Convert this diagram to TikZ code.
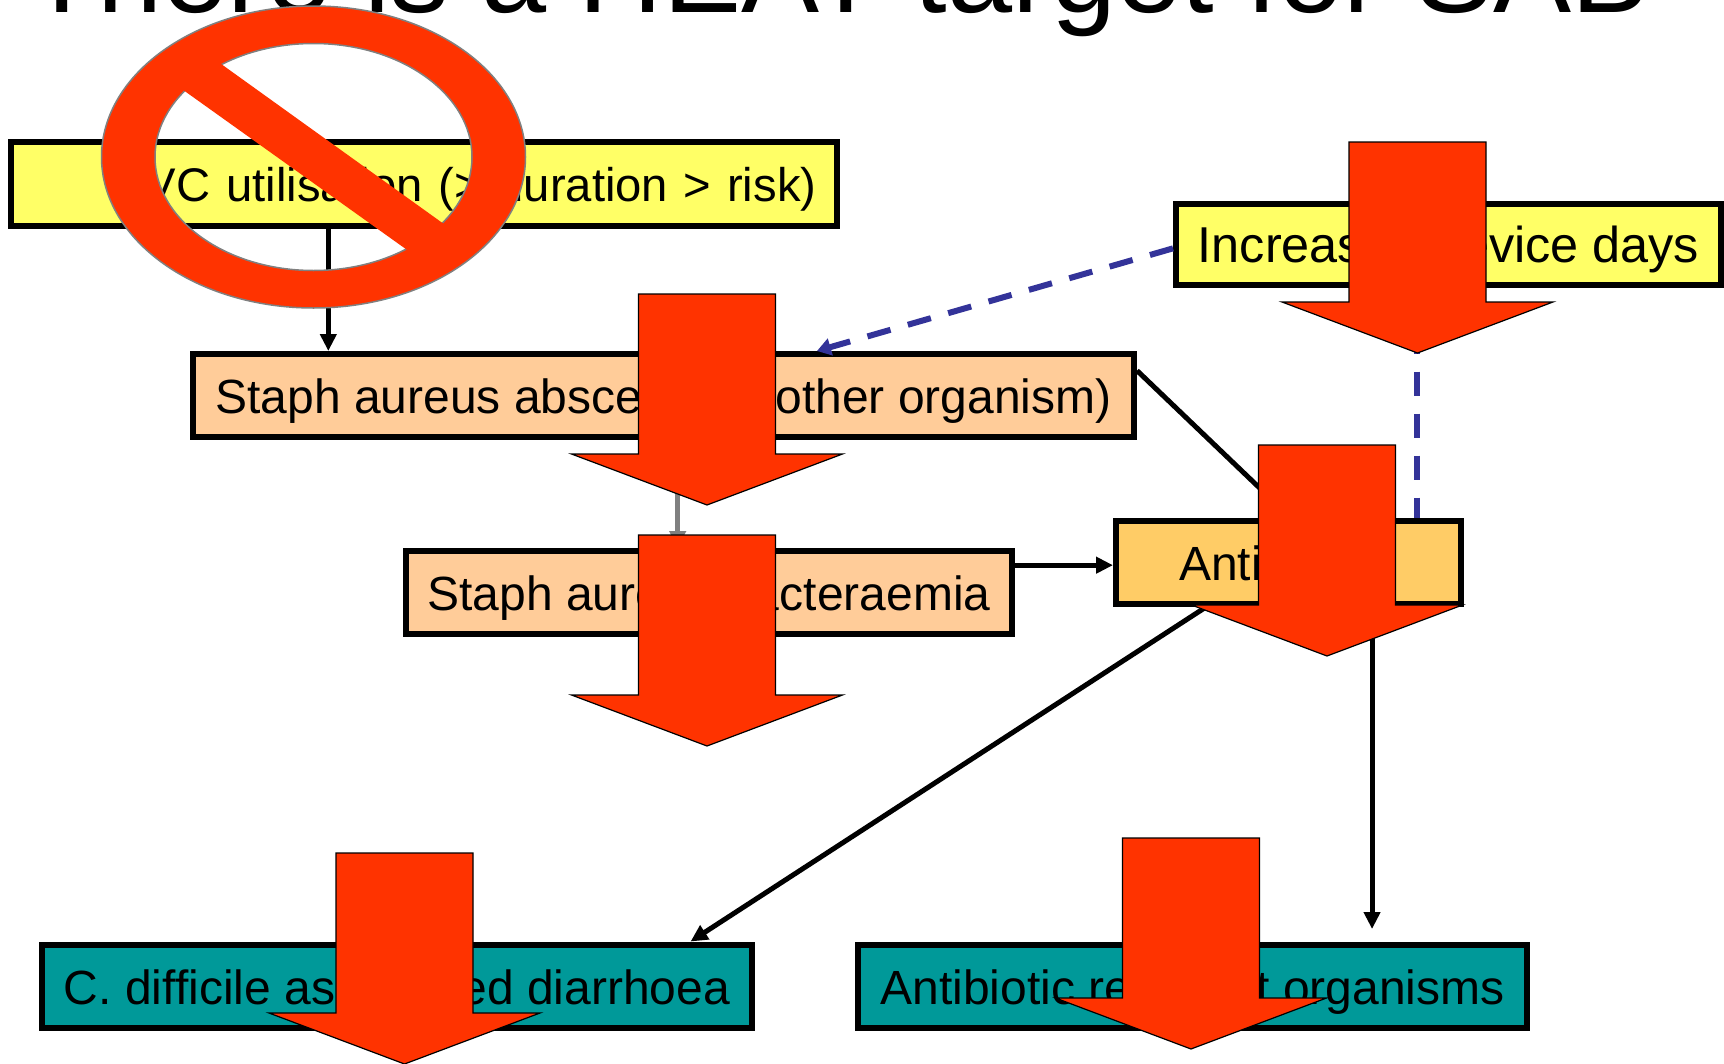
\documentclass[tikz,border=0pt]{standalone}
\usepackage{fontspec}
\setmainfont{Liberation Sans}
\usetikzlibrary{calc}
\usetikzlibrary{arrows.meta}

\definecolor{paleyellow}{HTML}{FFFF66}
\definecolor{paleorange}{HTML}{FFCC99}
\definecolor{midorange}{HTML}{FFCC66}
\definecolor{darkteal}{HTML}{009999}
\definecolor{hotred}{HTML}{FF3300}
\definecolor{navy}{HTML}{333399}

\tikzset{
    factor/.style={draw=black,line width=6pt,text=black,inner sep=0pt,
        font=\fontsize{48}{48}\selectfont,text height=44pt,text depth=8pt},
    link/.style={line width=5pt,-{Triangle[length=17pt,width=16pt]}},
    bluelink/.style={draw=navy,line width=6pt,dash pattern=on 24pt off 18pt},
    downarrow/.style={fill=hotred,draw=black,line width=1.2pt,line join=miter},
    ban/.style={fill=hotred,draw=gray,line width=1.5pt}
}

\begin{document}
\begin{tikzpicture}[x=1pt,y=-1pt]
    % Fix the page size and crop the title at the top edge
    \useasboundingbox (0,0) rectangle (1724,1063);
    \clip (0,0) rectangle (1724,1063);

    % Title
    \node[anchor=base,inner sep=0pt,font=\fontsize{117}{117}\selectfont] (title) at (838,12) {There is a HEAT target for SAB};

    % Draw the boxes
    \node[factor,fill=paleyellow,minimum width=826pt,minimum height=84pt,text width=785pt,align=right,font=\fontsize{47.2}{48}\selectfont] (cvc) at (424,183.5) {CVC utilisation (> duration > risk)};
    \node[factor,fill=paleyellow,minimum width=545pt,minimum height=81pt,font=\fontsize{50.4}{50}\selectfont] (devices) at (1448.5,244) {Increased device days};
    \node[factor,fill=paleorange,minimum width=941pt,minimum height=83pt] (abscess) at (663.5,395.5) {Staph aureus abscess (or other organism)};
    \node[factor,fill=paleorange,minimum width=606pt,minimum height=83pt] (bacteraemia) at (709,592.5) {Staph aureus bacteraemia};
    \node[factor,fill=midorange,minimum width=345pt,minimum height=83pt] (antibiotics) at (1288.5,562.5) {Antibiotics};
    \node[factor,fill=darkteal,minimum width=710pt,minimum height=83pt] (cdiff) at (397,986) {C. difficile associated diarrhoea};
    \node[factor,fill=darkteal,minimum width=669pt,minimum height=83pt] (resistant) at (1192.5,986) {Antibiotic resistant organisms};

    % Points where the connectors leave the boxes
    \coordinate (cvcout) at ($(cvc.south west)!0.385!(cvc.south east)$);
    \coordinate (abscessout) at ($(abscess.south west)!0.515!(abscess.south east)$);
    \coordinate (antibioticsin) at ($(antibiotics.north west)!0.53!(antibiotics.south west)$);
    \coordinate (abscessright) at ($(abscess.north east)!0.22!(abscess.south east)$);
    \coordinate (abscesstop) at ($(abscess.north west)!0.662!(abscess.north east)$);
    \coordinate (devicesleft) at ($(devices.north west)!0.55!(devices.south west)$);
    \coordinate (devicesout) at ($(devices.south west)!0.4437!(devices.south east)$);
    \coordinate (antibioticstop) at ($(antibiotics.north west)!0.507!(antibiotics.north east)$);
    \coordinate (useleft) at ($(antibiotics.south west)!0.265!(antibiotics.south east)$);
    \coordinate (useright) at ($(antibiotics.south west)!0.738!(antibiotics.south east)$);
    \coordinate (resistantin) at ($(useright)+(0,322)$);
    \coordinate (cdifftop) at ($(cdiff.north west)!0.91!(cdiff.north east)$);

    % Draw the connectors
    \draw[link] (cvcout) -- (cvcout |- abscess.north);
    \draw[link,draw=gray,fill=gray] (abscessout) -- (abscessout |- bacteraemia.north);
    \draw[link] (bacteraemia.east |- antibioticsin) -- (antibioticsin);
    \draw[line width=5pt] (abscessright) -- (antibioticstop);
    \draw[link] (useleft) -- (cdifftop);
    \draw[link] (useright) -- (resistantin);
    \draw[bluelink] (devicesleft) -- (abscesstop);
    \draw[navy,fill=navy,line width=5pt,-{Triangle[length=14pt,width=17pt]}] ($(abscesstop)+(12,-3.6)$) -- (abscesstop);
    \draw[bluelink] (devicesout) -- (devicesout |- antibiotics.north);

    % Draw the big arrows on top
    \foreach \x/\y in {707/294,1417.5/142,1327/445,707/535,404.5/853,1191/838}{
        \draw[downarrow] (\x-68.5,\y) -- (\x+68.5,\y) -- (\x+68.5,\y+160) -- (\x+135.5,\y+160)
            -- (\x,\y+211) -- (\x-135.5,\y+160) -- (\x-68.5,\y+160) -- cycle;
    }

    % Draw the no-entry sign
    \draw[ban,even odd rule] (313.5,157) ellipse [x radius=212,y radius=151]
        (313.5,157) ellipse [x radius=158.5,y radius=113.5];
    \fill[hotred] (210,56) -- (172,82) -- (417,257) -- (455,232) -- cycle;
\end{tikzpicture}
\end{document}
